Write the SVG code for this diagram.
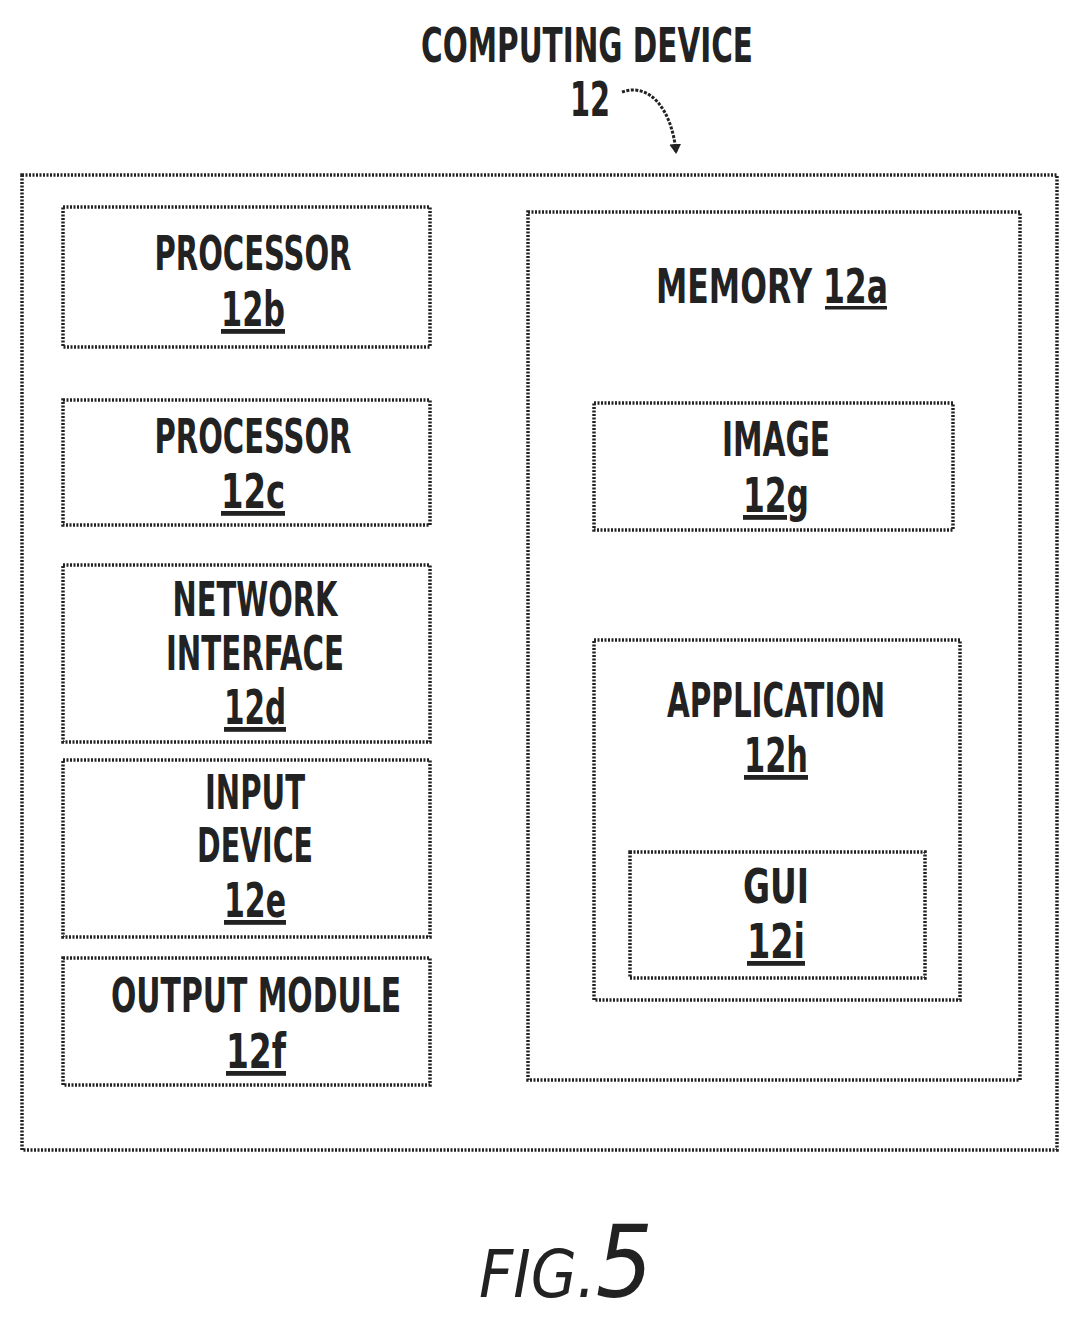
<svg xmlns="http://www.w3.org/2000/svg" width="1080" height="1323" viewBox="0 0 1080 1323">
<style>
.b{fill:#fff;stroke:#222;stroke-width:3.5;stroke-dasharray:2 1.5}
.t{font-family:"DejaVu Sans Condensed","Liberation Sans",sans-serif;font-size:48px;font-weight:bold;fill:#222;text-anchor:middle}
.u{text-decoration:underline}
</style>
<defs><marker id="a" markerWidth="12" markerHeight="12" refX="8" refY="6" orient="auto" markerUnits="userSpaceOnUse"><path d="M0,0 L10,6 L0,12 Z" fill="#222"/></marker></defs>
<rect width="1080" height="1323" fill="#fff"/>
<text class="t" x="587" y="62" textLength="332" lengthAdjust="spacingAndGlyphs">COMPUTING DEVICE</text>
<text class="t" x="590" y="116" textLength="40" lengthAdjust="spacingAndGlyphs">12</text>
<g id="connectors"><path d="M622,92 C650,82 672,110 676,152" fill="none" stroke="#222" stroke-width="3" stroke-dasharray="3 1.5" marker-end="url(#a)"/></g>
<g id="device"><rect class="b" x="22" y="175" width="1035" height="975"/></g>
<g id="p12b"><rect class="b" x="63" y="207" width="367" height="140"/><text class="t" x="253" y="270" textLength="197" lengthAdjust="spacingAndGlyphs">PROCESSOR</text><text class="t u" x="253" y="326" textLength="64" lengthAdjust="spacingAndGlyphs">12b</text></g>
<g id="p12c"><rect class="b" x="63" y="400" width="367" height="125"/><text class="t" x="253" y="453" textLength="197" lengthAdjust="spacingAndGlyphs">PROCESSOR</text><text class="t u" x="253" y="508" textLength="64" lengthAdjust="spacingAndGlyphs">12c</text></g>
<g id="n12d"><rect class="b" x="63" y="565" width="367" height="177"/><text class="t" x="255" y="616" textLength="165" lengthAdjust="spacingAndGlyphs">NETWORK</text><text class="t" x="255" y="670" textLength="178" lengthAdjust="spacingAndGlyphs">INTERFACE</text><text class="t u" x="255" y="724" textLength="62" lengthAdjust="spacingAndGlyphs">12d</text></g>
<g id="i12e"><rect class="b" x="63" y="760" width="367" height="177"/><text class="t" x="255" y="809" textLength="100" lengthAdjust="spacingAndGlyphs">INPUT</text><text class="t" x="255" y="862" textLength="116" lengthAdjust="spacingAndGlyphs">DEVICE</text><text class="t u" x="255" y="917" textLength="62" lengthAdjust="spacingAndGlyphs">12e</text></g>
<g id="o12f"><rect class="b" x="63" y="958" width="367" height="127"/><text class="t" x="256" y="1012" textLength="290" lengthAdjust="spacingAndGlyphs">OUTPUT MODULE</text><text class="t u" x="256" y="1068" textLength="60" lengthAdjust="spacingAndGlyphs">12f</text></g>
<g id="m12a"><rect class="b" x="528" y="212" width="492" height="868"/><text class="t" x="772" y="303" textLength="232" lengthAdjust="spacingAndGlyphs">MEMORY 12a</text><rect x="825" y="306" width="62" height="3.5" fill="#222"/></g>
<g id="g12g"><rect class="b" x="594" y="403" width="359" height="127"/><text class="t" x="776" y="456" textLength="108" lengthAdjust="spacingAndGlyphs">IMAGE</text><text class="t u" x="776" y="512" textLength="66" lengthAdjust="spacingAndGlyphs">12g</text></g>
<g id="a12h"><rect class="b" x="594" y="640" width="366" height="360"/><text class="t" x="776" y="717" textLength="218" lengthAdjust="spacingAndGlyphs">APPLICATION</text><text class="t u" x="776" y="772" textLength="64" lengthAdjust="spacingAndGlyphs">12h</text></g>
<g id="gui12i"><rect class="b" x="630" y="852" width="295" height="126"/><text class="t" x="776" y="903" textLength="66" lengthAdjust="spacingAndGlyphs">GUI</text><text class="t u" x="776" y="958" textLength="58" lengthAdjust="spacingAndGlyphs">12i</text></g>
<text class="t" x="566" y="1297" style="font-size:66px;font-style:italic;font-weight:normal">FIG.<tspan style="font-size:100px">5</tspan></text>
</svg>
